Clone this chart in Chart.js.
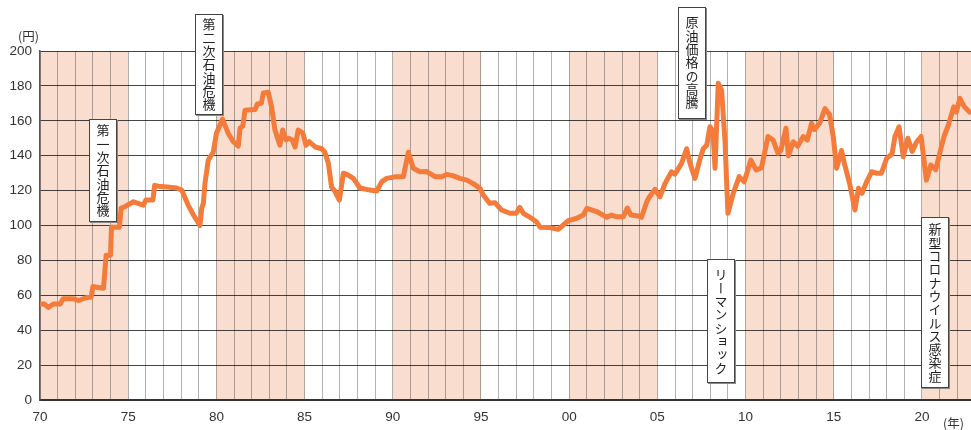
<!DOCTYPE html>
<html lang="ja">
<head>
<meta charset="utf-8">
<script src="https://cdn.jsdelivr.net/npm/chart.js@4/dist/chart.umd.min.js"></script>
<style>
  html, body { margin: 0; padding: 0; background: #fff; }
  #wrap { position: relative; width: 971px; height: 430px; overflow: hidden; }
  .unit {
    position: absolute; font-family: "Noto Sans CJK JP", sans-serif;
    font-size: 12.5px; color: #333; line-height: 1;
  }
  .note {
    position: absolute; box-sizing: border-box; background: #fff;
    border: 1px solid #444; box-shadow: 1px 1px 0 #888;
    writing-mode: vertical-rl;
    font-family: "Noto Sans CJK JP", sans-serif; font-size: 13px;
    letter-spacing: 0.3px; color: #222;
    display: flex; align-items: center; justify-content: center;
    line-height: 1;
  }
</style>
</head>
<body>
<div id="wrap">
  <canvas id="priceChart"></canvas>
  <div class="unit" style="left:18px;top:30px;">(円)</div>
  <div class="unit" style="left:943px;top:417px;">(年)</div>
  <div class="note" style="left:89px;top:119px;width:28px;height:103px;">第一次石油危機</div>
  <div class="note" style="left:195px;top:14px;width:28px;height:101px;">第二次石油危機</div>
  <div class="note" style="left:678px;top:7px;width:28px;height:112px;">原油価格の高騰</div>
  <div class="note" style="left:707px;top:259px;width:28px;height:124px;">リーマンショック</div>
  <div class="note" style="left:921px;top:217px;width:28px;height:171px;">新型コロナウイルス感染症</div>
</div>
<script>
// 時期(年)と価格(円)
const years = [
  1970.00, 1970.25, 1970.47, 1970.76, 1971.14, 1971.32, 1971.90, 1972.20, 1972.60, 1972.90,
  1973.00, 1973.30, 1973.60, 1973.75, 1974.00, 1974.05, 1974.50, 1974.60, 1974.76, 1975.30,
  1975.86, 1976.00, 1976.40, 1976.50, 1976.70, 1977.20, 1977.75, 1978.03, 1978.40, 1978.70,
  1979.07, 1979.17, 1979.26, 1979.35, 1979.54, 1979.82, 1980.00, 1980.35, 1980.67, 1980.96,
  1981.24, 1981.34, 1981.50, 1981.62, 1982.20, 1982.32, 1982.55, 1982.66, 1982.94, 1983.13,
  1983.32, 1983.60, 1983.76, 1983.95, 1984.10, 1984.30, 1984.46, 1984.64, 1984.90, 1985.08,
  1985.27, 1985.60, 1985.97, 1986.15, 1986.35, 1986.53, 1986.70, 1986.97, 1987.20, 1987.45,
  1987.76, 1988.14, 1988.70, 1989.09, 1989.37, 1989.65, 1990.20, 1990.60, 1990.88, 1991.16,
  1991.54, 1991.90, 1992.40, 1992.80, 1993.05, 1993.40, 1993.80, 1994.20, 1994.56, 1994.94,
  1995.13, 1995.50, 1995.80, 1996.17, 1996.64, 1997.00, 1997.20, 1997.40, 1997.78, 1998.16,
  1998.35, 1998.90, 1999.38, 1999.67, 1999.95, 2000.40, 2000.80, 2001.00, 2001.56, 2002.13,
  2002.40, 2002.70, 2003.07, 2003.30, 2003.50, 2003.90, 2004.10, 2004.40, 2004.50, 2004.86,
  2005.15, 2005.43, 2005.80, 2006.00, 2006.37, 2006.66, 2006.85, 2007.13, 2007.40, 2007.60,
  2007.80, 2007.98, 2008.15, 2008.27, 2008.45, 2008.64, 2008.83, 2009.00, 2009.30, 2009.64,
  2009.92, 2010.30, 2010.60, 2010.90, 2011.27, 2011.56, 2011.84, 2012.00, 2012.29, 2012.43,
  2012.70, 2012.96, 2013.27, 2013.50, 2013.74, 2013.90, 2014.20, 2014.50, 2014.76, 2014.97,
  2015.16, 2015.44, 2015.60, 2015.90, 2016.20, 2016.40, 2016.60, 2016.86, 2017.15, 2017.43,
  2017.70, 2018.00, 2018.30, 2018.47, 2018.70, 2018.94, 2019.20, 2019.45, 2019.70, 2019.95,
  2020.25, 2020.50, 2020.78, 2021.07, 2021.25, 2021.50, 2021.80, 2021.95, 2022.15, 2022.40,
  2022.70
];
const prices = [
  55, 55, 53, 55, 55, 58, 58, 57, 58.6, 59,
  65, 64.5, 64, 83, 83, 99, 99, 110, 110.5, 113.6,
  111.7, 114.6, 114.6, 123, 122.5, 122, 121.5, 120.3, 111.7, 106,
  100, 110, 112.7, 124, 137.5, 142, 152.8, 161, 152.8, 148,
  145.5, 155.7, 157, 166, 166.5, 169.6, 170, 176, 176.3, 168,
  154.7, 146, 154.7, 149, 150, 149, 145, 154.7, 153, 146,
  148, 145, 144, 142, 135.6, 122, 120, 114.6, 130, 129,
  127, 121.5, 120.3, 119.8, 125, 127, 128, 128, 142, 132.8,
  130.8, 131, 128, 128, 129.3, 128.6, 127, 126, 124, 121.3,
  117.5, 112.7, 113, 108.9, 107, 107, 110.4, 107, 104.7, 102,
  99, 98.8, 97.8, 100.3, 102.8, 104, 106, 109.8, 108, 104.7,
  106, 105, 105, 110, 106, 105.5, 104.7, 113.6, 115.6, 120.7,
  116.5, 124, 130.8, 129.5, 135.6, 144, 135.6, 127, 137.5, 144,
  146, 156.6, 154, 132.8, 181.5, 177.6, 149, 107, 118.4, 128,
  125, 137.5, 131.8, 133, 151, 149, 141.4, 143, 155.7, 140,
  148, 145.5, 151, 149, 158.6, 155, 158.6, 167, 163.6, 151,
  132.8, 143, 135.6, 124, 108.9, 121.3, 118.5, 125, 130.8, 130,
  130, 138.5, 141, 151, 156.6, 139.4, 150, 142.5, 148, 151,
  126, 134.7, 132, 144, 151, 157.6, 168, 165, 172.9, 168,
  165
];
const yearTicks = [];
for (let y = 1970; y <= 2022; y++) yearTicks.push(y);
const shadeBands = [[1970, 1975], [1980, 1985], [1990, 1995], [2000, 2005], [2010, 2015], [2020, 2025]];

const bandPlugin = {
  id: 'bands',
  beforeDraw(chart) {
    const {ctx, chartArea, scales} = chart;
    ctx.save();
    ctx.fillStyle = '#f9ddcf';
    shadeBands.forEach(([a, b]) => {
      const x1 = Math.max(scales.x.getPixelForValue(a), chartArea.left);
      const x2 = Math.min(scales.x.getPixelForValue(b), chartArea.right);
      ctx.fillRect(x1, chartArea.top, x2 - x1, chartArea.bottom - chartArea.top);
    });
    ctx.restore();
  }
};

const tickFont = {family: '"Liberation Sans", Arial, sans-serif', size: 13.5};

new Chart(document.getElementById('priceChart'), {
  type: 'line',
  data: {
    datasets: [{
      data: years.map((y, i) => ({x: y, y: prices[i]})),
      borderColor: '#f47b3a',
      borderWidth: 5,
      pointRadius: 0,
      tension: 0,
      borderJoinStyle: 'round',
      borderCapStyle: 'round'
    }]
  },
  options: {
    responsive: true,
    maintainAspectRatio: false,
    animation: false,
    layout: {padding: {top: 51, right: 0, left: 0, bottom: 0}},
    plugins: {legend: {display: false}, tooltip: {enabled: false}},
    scales: {
      x: {
        type: 'linear',
        min: 1970,
        max: 2022.78,
        afterBuildTicks: (scale) => { scale.ticks = yearTicks.map(v => ({value: v})); },
        afterFit: (scale) => { scale.height = 30; },
        grid: {color: 'rgba(0,0,0,0.3)', lineWidth: 1, drawTicks: false},
        border: {color: '#333', width: 2},
        ticks: {
          autoSkip: false,
          maxRotation: 0,
          padding: 9,
          color: '#333',
          font: tickFont,
          callback: (v) => (v % 5 === 0 ? String(v % 100).padStart(2, '0') : '')
        }
      },
      y: {
        min: 0,
        max: 200,
        afterFit: (scale) => { scale.width = 40; },
        grid: {color: 'rgba(0,0,0,0.72)', lineWidth: 1, drawTicks: false},
        border: {color: '#555', width: 1.5},
        ticks: {stepSize: 20, padding: 8, color: '#333', font: tickFont}
      }
    }
  },
  plugins: [bandPlugin]
});
</script>
</body>
</html>
